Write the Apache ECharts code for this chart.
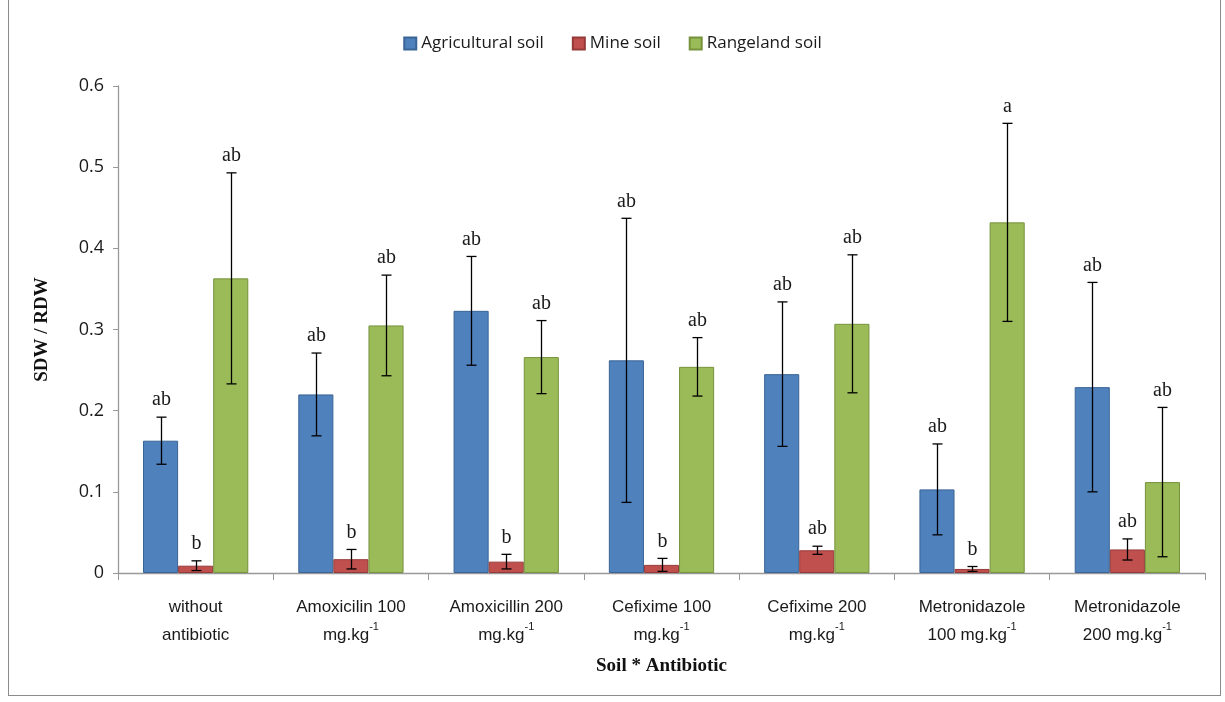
<!DOCTYPE html>
<html>
<head>
<meta charset="utf-8">
<script src="https://cdn.jsdelivr.net/npm/echarts@6/dist/echarts.min.js"></script>
<style>
  html, body { margin: 0; padding: 0; background: #fff; }
  #frame {
    position: absolute; left: 8px; top: -2px; width: 1213px; height: 698px;
    border: 1px solid #8c8c8c; box-sizing: border-box;
  }
  #chart { width: 1225px; height: 702px; }
</style>
</head>
<body>
<div id="frame"></div>
<div id="chart"></div>
<script>
// categories (sup = superscript part)
var categories = [
  'without\nantibiotic',
  'Amoxicilin 100\nmg.kg{sup|-1}',
  'Amoxicillin 200\nmg.kg{sup|-1}',
  'Cefixime 100\nmg.kg{sup|-1}',
  'Cefixime 200\nmg.kg{sup|-1}',
  'Metronidazole\n100 mg.kg{sup|-1}',
  'Metronidazole\n200 mg.kg{sup|-1}'
];
var seriesNames = ['Agricultural soil', 'Mine soil', 'Rangeland soil'];

var agriValues  = [0.163, 0.220, 0.323, 0.262, 0.245, 0.103, 0.229];
var mineValues  = [0.009, 0.017, 0.014, 0.010, 0.028, 0.005, 0.029];
var rangeValues = [0.363, 0.305, 0.266, 0.254, 0.307, 0.432, 0.112];

var agriErr  = [0.029, 0.051, 0.067, 0.175, 0.089, 0.056, 0.129];
var mineErr  = [0.006, 0.012, 0.009, 0.008, 0.005, 0.003, 0.013];
var rangeErr = [0.130, 0.062, 0.045, 0.036, 0.085, 0.122, 0.092];

var agriLetters  = ['ab', 'ab', 'ab', 'ab', 'ab', 'ab', 'ab'];
var mineLetters  = ['b', 'b', 'b', 'b', 'ab', 'b', 'ab'];
var rangeLetters = ['ab', 'ab', 'ab', 'ab', 'ab', 'a', 'ab'];

var yTicks = [0, 0.1, 0.2, 0.3, 0.4, 0.5, 0.6];

var values  = [agriValues, mineValues, rangeValues];
var errs    = [agriErr, mineErr, rangeErr];
var letters = [agriLetters, mineLetters, rangeLetters];
var colors  = ['#4F81BD', '#C0504D', '#9BBB59'];
var borders = ['#3A6496', '#943B39', '#76923C'];
var BAR_FRAC = 0.226;

var chart = echarts.init(document.getElementById('chart'));

function errSeries(k) {
  return {
    type: 'custom',
    name: seriesNames[k] + ' err',
    z: 5,
    silent: true,
    data: values[k].map(function (v, i) { return [i, v, errs[k][i]]; }),
    renderItem: function (params, api) {
      var idx = api.value(0);
      var v = api.value(1), e = api.value(2);
      var band = api.size([1, 0])[0];
      var c = api.coord([idx, v]);
      var x = Math.round(c[0] + (k - 1) * band * BAR_FRAC) + 0.5;
      var top = api.coord([idx, v + e])[1];
      var bot = api.coord([idx, Math.max(v - e, 0)])[1];
      var cap = 5;
      var st = { stroke: '#000', lineWidth: 1.3 };
      return {
        type: 'group',
        children: [
          { type: 'line', shape: { x1: x, y1: top, x2: x, y2: bot }, style: st },
          { type: 'line', shape: { x1: x - cap, y1: top, x2: x + cap, y2: top }, style: st },
          { type: 'line', shape: { x1: x - cap, y1: bot, x2: x + cap, y2: bot }, style: st },
          { type: 'text', x: x, y: top - 7,
            style: { text: letters[k][params.dataIndex], fill: '#1a1a1a',
              font: '20px "Liberation Serif", "DejaVu Serif", serif',
              align: 'center', verticalAlign: 'bottom' } }
        ]
      };
    }
  };
}

var series = [];
for (var k = 0; k < 3; k++) {
  series.push({
    type: 'bar',
    name: seriesNames[k],
    data: values[k],
    barWidth: (BAR_FRAC * 100) + '%',
    barGap: '0%',
    itemStyle: { color: colors[k], borderColor: borders[k], borderWidth: 1 }
  });
}
for (var k2 = 0; k2 < 3; k2++) series.push(errSeries(k2));

var option = {
  animation: false,
  legend: {
    data: seriesNames,
    top: 30,
    left: 'center',
    itemWidth: 12,
    itemHeight: 12,
    itemGap: 28,
    icon: 'rect',
    textStyle: { fontFamily: '"Open Sans", "Noto Sans", sans-serif', fontSize: 17, color: '#1a1a1a' }
  },
  grid: { left: 118, right: 20, top: 86, bottom: 129 },
  xAxis: {
    type: 'category',
    data: categories,
    name: 'Soil * Antibiotic',
    nameLocation: 'middle',
    nameGap: 84,
    nameTextStyle: { fontFamily: '"Liberation Serif", serif', fontWeight: 'bold', fontSize: 19, color: '#111' },
    axisLine: { lineStyle: { color: '#999', width: 1.3 } },
    axisTick: { show: true, length: 7, lineStyle: { color: '#999' } },
    axisLabel: {
      interval: 0,
      margin: 20,
      lineHeight: 28,
      fontFamily: '"Liberation Sans Narrow", "Liberation Sans", sans-serif',
      fontSize: 17,
      color: '#1a1a1a',
      rich: {
        sup: { fontSize: 11, verticalAlign: 'top', padding: [0, 0, 10, 0],
          fontFamily: '"Liberation Sans Narrow", "Liberation Sans", sans-serif', color: '#1a1a1a' }
      }
    }
  },
  yAxis: {
    type: 'value',
    min: 0,
    max: 0.6,
    interval: 0.1,
    name: 'SDW / RDW',
    nameLocation: 'middle',
    nameGap: 66,
    nameTextStyle: { fontFamily: '"Liberation Serif", serif', fontWeight: 'bold', fontSize: 19, color: '#111' },
    axisLine: { show: true, lineStyle: { color: '#999', width: 1.3 } },
    axisTick: { show: true, length: 5, lineStyle: { color: '#999' } },
    splitLine: { show: false },
    axisLabel: {
      margin: 14,
      fontFamily: '"Open Sans", "Noto Sans", sans-serif',
      fontSize: 18,
      color: '#1a1a1a',
      formatter: function (v) {
        var t = yTicks.filter(function (y) { return Math.abs(y - v) < 1e-9; });
        return t.length ? String(t[0]) : '';
      }
    }
  },
  series: series
};
chart.setOption(option);
</script>
</body>
</html>
